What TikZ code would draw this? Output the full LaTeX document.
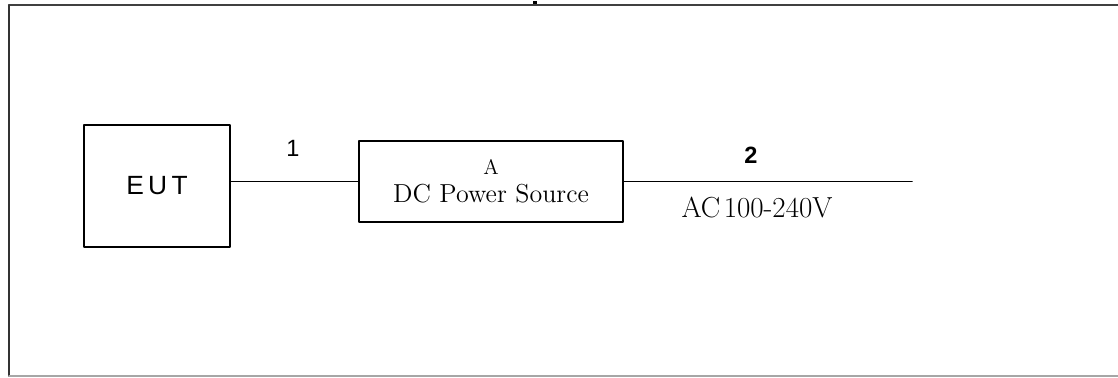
\documentclass[tikz,border=0pt]{standalone}
\usepackage{fontspec}
\newfontfamily\labelsans{Liberation Sans}
\usetikzlibrary{positioning}

\tikzset{
    unitbox/.style={draw, line width=0.9pt, inner sep=0pt, align=center},
    cablelbl/.style={font=\labelsans\fontsize{13.4}{16}\selectfont, inner sep=0pt},
}

\begin{document}
\begin{tikzpicture}[x=0.02cm, y=-0.02cm, line width=0.9pt, line cap=round, line join=round]
    \useasboundingbox (0,0) rectangle (1118,378);

    % sheet frame
    \draw[black!75, line width=1.2pt] (9,5) -- (1118,5);
    \draw[black!80, line width=1pt] (9,5) -- (9,376);
    \draw[black!35, line width=0.8pt] (9,376) -- (1118,376);
    \fill (533,1.5) rectangle (537,4.5);

    \node[unitbox, minimum width=2.92cm, minimum height=2.44cm,
          font=\labelsans\fontsize{15}{18}\selectfont] (eut) at (157,186)
          {E\kern2.5pt U\kern2.5pt T};
    \node[unitbox, minimum width=5.28cm, minimum height=1.62cm] (dcsrc) at (491,181.5)
          {\fontsize{12}{13}\selectfont A\\[4pt]\fontsize{14.8}{16}\selectfont DC Power Source};
    \coordinate (mains) at (912,178);

    \draw (eut.east |- dcsrc.west) -- (dcsrc.west);
    \draw (dcsrc.east) -- (mains |- dcsrc.east);

    \node[cablelbl] (cbl1) at (293,148) {1};
    \node[cablelbl, font=\labelsans\bfseries\fontsize{13.4}{16}\selectfont] (cbl2) at (751,155) {2};
    \node[inner sep=0pt, font=\fontsize{16.5}{18}\selectfont] (acin) at (757,207) {AC\kern2pt 100-240V};
\end{tikzpicture}
\end{document}
